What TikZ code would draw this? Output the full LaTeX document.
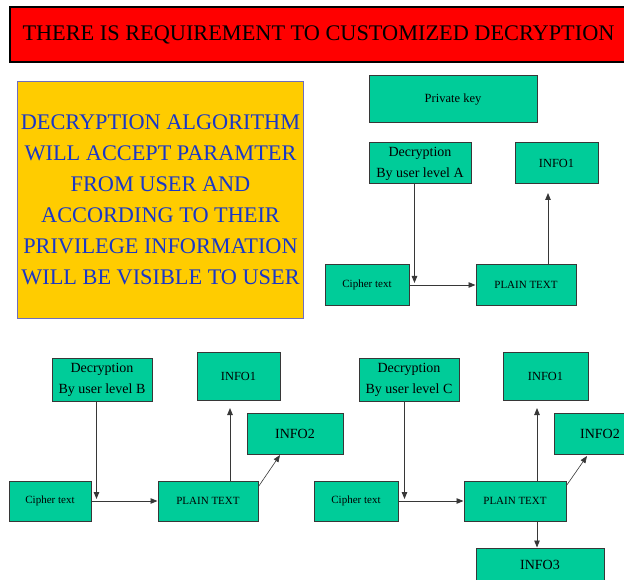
\documentclass[tikz,border=0pt]{standalone}
\usepackage{fontspec}
\setmainfont{Liberation Serif}
\usepackage{xcolor}
\usepackage{tikz}
\usetikzlibrary{arrows.meta,calc}
\definecolor{boxgreen}{RGB}{0,204,153}
\definecolor{titlered}{RGB}{255,0,0}
\definecolor{notegold}{RGB}{255,204,0}
\definecolor{noteblue}{RGB}{25,55,200}
\definecolor{noteedge}{RGB}{110,110,190}
\definecolor{edgegrey}{RGB}{55,55,55}

\begin{document}
\begin{tikzpicture}[x=1pt,y=-1pt,
    box/.style={draw=edgegrey, line width=1pt, fill=boxgreen, inner sep=0pt, align=center, minimum height=40},
    decbox/.style={box, minimum width=100, minimum height=43, font=\fontsize{14}{21}\selectfont},
    cipherbox/.style={box, font=\fontsize{11}{13}\selectfont},
    plainbox/.style={box, font=\fontsize{11}{13}\selectfont},
    infobox/.style={box, font=\fontsize{12.4}{15}\selectfont},
    arr/.style={-{Triangle[length=7pt,width=5.5pt]}, draw=edgegrey, line width=0.9pt}]
    \useasboundingbox (0,0) rectangle (624,580);
    \clip (0,0) rectangle (624,580);
    % Title bar
    \node[draw=black, line width=1.5pt, fill=titlered, minimum width=617, minimum height=55,
          font=\fontsize{22.3}{26}\selectfont] (title) at (318.5,34.5)
          {THERE IS REQUIREMENT TO CUSTOMIZED DECRYPTION};
    % Note
    \node[draw=noteedge, line width=1pt, fill=notegold, text=noteblue, minimum width=285,
          minimum height=236, align=center, font=\fontsize{22.3}{31}\selectfont] (note) at (160.5,200)
          {DECRYPTION ALGORITHM\\WILL ACCEPT PARAMTER\\FROM USER AND\\ACCORDING TO THEIR\\PRIVILEGE INFORMATION\\WILL BE VISIBLE TO USER};
    % Level A
    \begin{scope}
        \node[box, minimum width=168, minimum height=47, font=\fontsize{12.5}{15}\selectfont] (key) at (453,99.5) {Private key};
        \node[decbox, minimum width=102, minimum height=41] (decA) at (420,163.5) {Decryption\\By user level A};
        \node[infobox, minimum width=83, minimum height=41] (infoA) at (556.5,163.5) {INFO1};
        \node[cipherbox, minimum width=84] (cipherA) at (367,285) {Cipher text};
        \node[plainbox, minimum width=100] (plainA) at (526,285) {PLAIN TEXT};
        \coordinate (jA) at ($(cipherA.east)+(5,0)$);
        \coordinate (upA) at (548,193);
        \draw[arr] (decA.south -| jA) -- ($(jA)+(0,-2)$);
        \draw[arr] (cipherA.east) -- (plainA.west);
        \draw[arr] (plainA.north -| upA) -- (upA);
    \end{scope}
    % Level B
    \begin{scope}
        \node[decbox] (decB) at (102,379.5) {Decryption\\By user level B};
        \node[infobox, minimum width=83, minimum height=48] (infoB1) at (238.5,376) {INFO1};
        \node[infobox, minimum width=96, minimum height=41, font=\fontsize{14}{16}\selectfont] (infoB2) at (295,433.5) {INFO2};
        \node[cipherbox, minimum width=82] (cipherB) at (50,501) {Cipher text};
        \node[plainbox, minimum width=100] (plainB) at (208,501) {PLAIN TEXT};
        \coordinate (jB) at ($(cipherB.east)+(5,0)$);
        \coordinate (upB) at (230,408);
        \coordinate (diagB) at (280,455);
        \draw[arr] (decB.south -| jB) -- ($(jB)+(0,-2)$);
        \draw[arr] (cipherB.east) -- (plainB.west);
        \draw[arr] (plainB.north -| upB) -- (upB);
        \draw[arr, line width=0.6pt] ($(plainB.north east)+(0,6)$) -- (diagB);
    \end{scope}
    % Level C
    \begin{scope}
        \node[decbox] (decC) at (409,379.5) {Decryption\\By user level C};
        \node[infobox, minimum width=85, minimum height=48] (infoC1) at (545.5,376) {INFO1};
        \node[infobox, minimum width=92, minimum height=41, font=\fontsize{14}{16}\selectfont] (infoC2) at (600,433.5) {INFO2};
        \node[cipherbox, minimum width=84] (cipherC) at (356,501) {Cipher text};
        \node[plainbox, minimum width=102] (plainC) at (515,501) {PLAIN TEXT};
        \node[infobox, minimum width=128, minimum height=34, font=\fontsize{14}{16}\selectfont] (infoC3) at (540,565) {INFO3};
        \coordinate (jC) at ($(cipherC.east)+(6,0)$);
        \coordinate (upC) at (537,408);
        \coordinate (diagC) at (587,456);
        \draw[arr] (decC.south -| jC) -- ($(jC)+(0,-2)$);
        \draw[arr] (cipherC.east) -- (plainC.west);
        \draw[arr] (plainC.north -| upC) -- (upC);
        \draw[arr, line width=0.6pt] ($(plainC.north east)+(0,5)$) -- (diagC);
        \draw[arr] (plainC.south -| upC) -- (infoC3.north -| upC);
    \end{scope}
\end{tikzpicture}
\end{document}
